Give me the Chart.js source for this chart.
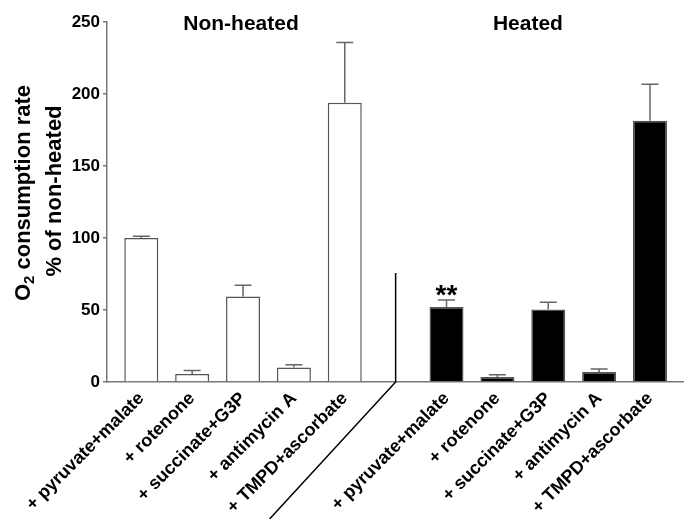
<!DOCTYPE html>
<html>
<head>
<meta charset="utf-8">
<script src="https://cdn.jsdelivr.net/npm/chart.js@4.4.0/dist/chart.umd.min.js"></script>
<style>
  html, body { margin: 0; padding: 0; background: #fff; }
</style>
</head>
<body>
<canvas id="grafico" width="692" height="519"></canvas>
<script>
// Dados
const categories = ['+ pyruvate+malate', '+ rotenone', '+ succinate+G3P', '+ antimycin A', '+ TMPD+ascorbate'];
const nonHeated = [100, 5.5, 59.3, 10, 194];
const nonHeatedErr = [1.2, 2.4, 7.9, 2, 41.7];
const heated = [52, 3.5, 50.3, 7, 181.5];
const heatedErr = [5, 1.6, 5, 2, 25.2];
const yTicks = [0, 50, 100, 150, 200, 250];
const groupTitles = ['Non-heated', 'Heated'];
const significance = ['**', '', '', '', ''];

const FONT = '"Liberation Sans", Arial, sans-serif';
const HEATED_OFFSET = categories.length + 1; // slot vazio entre os grupos
const xLabels = [...categories, '', ...categories];

// Linhas extras: barras de erro, separador, títulos
const extras = {
    id: 'extras',
    afterDatasetsDraw(chart) {
        const ctx = chart.ctx;
        const x = chart.scales.x;
        const y = chart.scales.y;
        ctx.save();

        // barras de erro (só para cima)
        ctx.strokeStyle = '#666';
        ctx.lineWidth = 1.5;
        [[nonHeated, nonHeatedErr, 0], [heated, heatedErr, 1]].forEach(([vals, errs, d]) => {
            const meta = chart.getDatasetMeta(d);
            vals.forEach((v, i) => {
                const px = meta.data[i].x;
                const y0 = y.getPixelForValue(v);
                const y1 = y.getPixelForValue(v + errs[i]);
                ctx.beginPath();
                ctx.moveTo(px, y0);
                ctx.lineTo(px, y1);
                ctx.moveTo(px - 8.5, y1);
                ctx.lineTo(px + 8.5, y1);
                ctx.stroke();
            });
        });

        // asteriscos
        ctx.fillStyle = '#000';
        ctx.font = 'bold 28px ' + FONT;
        ctx.textAlign = 'center';
        ctx.textBaseline = 'alphabetic';
        const meta1 = chart.getDatasetMeta(1);
        significance.forEach((s, i) => {
            if (!s) return;
            const top = y.getPixelForValue(heated[i] + heatedErr[i]);
            ctx.fillText(s, meta1.data[i].x, top + 4);
        });

        // separador
        const xs = x.getPixelForValue(categories.length);
        const yb = y.getPixelForValue(0);
        ctx.strokeStyle = '#000';
        ctx.lineWidth = 1.5;
        ctx.beginPath();
        ctx.moveTo(xs, y.getPixelForValue(75.7));
        ctx.lineTo(xs, yb);
        ctx.lineTo(xs - (chart.height - yb) * 0.92, chart.height);
        ctx.stroke();

        // títulos dos grupos
        ctx.font = 'bold 21px ' + FONT;
        ctx.textBaseline = 'middle';
        ctx.fillText(groupTitles[0], x.getPixelForValue(1.96), 24);
        ctx.fillText(groupTitles[1], x.getPixelForValue(7.6), 24);

        // título do eixo y com subscrito
        const cy = 193;
        ctx.translate(29.5, cy);
        ctx.rotate(-Math.PI / 2);
        ctx.textAlign = 'left';
        ctx.textBaseline = 'alphabetic';
        const big = 'bold 22px ' + FONT;
        const small = 'bold 15px ' + FONT;
        ctx.font = big;
        const wO = ctx.measureText('O').width;
        const wRest = ctx.measureText(' consumption rate').width;
        ctx.font = small;
        const w2 = ctx.measureText('2').width;
        let start = -(wO + w2 + wRest) / 2;
        ctx.font = big;
        ctx.fillText('O', start, 0);
        ctx.font = small;
        ctx.fillText('2', start + wO, 4);
        ctx.font = big;
        ctx.fillText(' consumption rate', start + wO + w2, 0);
        ctx.textAlign = 'center';
        ctx.fillText('% of non-heated', 2, 31);
        ctx.restore();
    }
};

new Chart(document.getElementById('grafico'), {
    type: 'bar',
    data: {
        datasets: [{
            label: groupTitles[0],
            data: nonHeated.map((v, i) => ({ x: i, y: v })),
            backgroundColor: '#fff',
            borderColor: '#555',
            borderWidth: 1.5
        }, {
            label: groupTitles[1],
            data: heated.map((v, i) => ({ x: i + HEATED_OFFSET, y: v })),
            backgroundColor: '#000',
            borderColor: '#555',
            borderWidth: 1.5
        }]
    },
    options: {
        responsive: false,
        animation: false,
        grouped: false,
        barPercentage: 0.668,
        categoryPercentage: 1,
        layout: { padding: { top: 22, right: 9, left: 0, bottom: 0 } },
        plugins: {
            legend: { display: false },
            tooltip: { enabled: false }
        },
        scales: {
            x: {
                type: 'linear',
                offset: false,
                min: -0.674,
                max: 10.649,
                afterBuildTicks: s => { s.ticks = xLabels.map((_, i) => ({ value: i })); },
                afterFit: s => { s.height = 137; },
                ticks: {
                    autoSkip: false,
                    maxRotation: 45,
                    minRotation: 45,
                    padding: 6,
                    color: '#000',
                    font: { family: FONT, size: 18, weight: 'bold' },
                    callback: v => xLabels[v] || ''
                },
                grid: { display: false, drawTicks: false },
                border: { color: '#777', width: 1.5 }
            },
            y: {
                min: 0,
                max: 250,
                afterBuildTicks: s => { s.ticks = yTicks.map(v => ({ value: v })); },
                afterFit: s => { s.width = 107; },
                ticks: {
                    padding: 3,
                    color: '#000',
                    font: { family: FONT, size: 17, weight: 'bold' }
                },
                grid: { drawOnChartArea: false, drawTicks: true, tickLength: 4, color: '#777', lineWidth: 1.5 },
                border: { color: '#777', width: 1.5 }
            }
        }
    },
    plugins: [extras]
});
</script>
</body>
</html>
